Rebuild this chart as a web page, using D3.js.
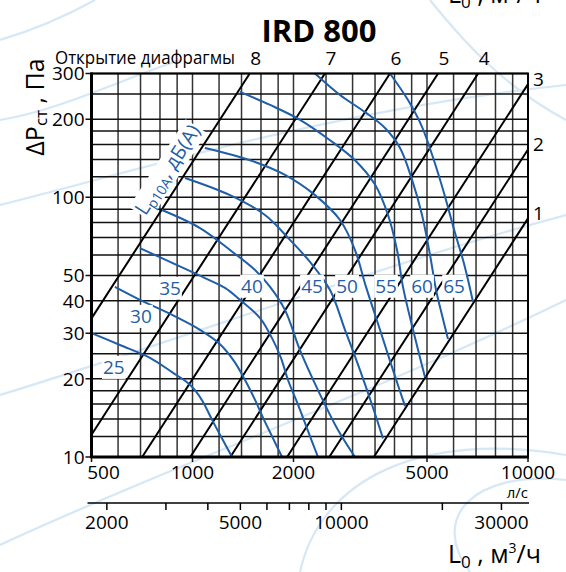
<!DOCTYPE html>
<html><head><meta charset="utf-8">
<script src="https://cdn.jsdelivr.net/npm/d3@7"></script>
<style>body{margin:0;background:#fff}svg{display:block}text{font-family:"Open Sans",sans-serif}</style>
</head><body>
<svg id="c" width="566" height="572"></svg>
<script>
// ---------- DATA ----------
const title = "IRD 800";
const xMajorTicks = [500, 1000, 2000, 5000, 10000];            // л/с
const xGridValues = [500,600,700,800,900,1000,1200,1400,1600,1800,2000,2500,3000,3500,4000,4500,5000,6000,7000,8000,9000,10000];
const yMajorTicks = [10, 20, 30, 40, 50, 100, 200, 300];       // Па
const yGridValues = [10,12,14,16,18,20,25,30,40,50,60,70,80,90,100,120,140,160,180,200,250,300];
const m3hTicks = [2000,3000,4000,5000,6000,7000,8000,9000,10000,20000,30000];
const m3hLabels = [2000, 5000, 10000, 30000];
// damper opening positions: pressure drop (Pa) at 10000 l/s, P = k*(L/10000)^2
const damperNames = ["1","2","3","4","5","6","7","8"];
const damperPAt10000 = [83, 153, 273, 595, 1031, 1995, 4874, 13677];
// noise level curves Lp10A, dB(A): [L l/s, P Pa]
const noiseLevels = [25, 30, 35, 40, 45, 50, 55, 60, 65];
const noise25 = [[500,30.0],[608,27.0],[747,24.1],[875,21.1],[963,19.4],[1017,18.1],[1075,16.3],[1144,13.9],[1224,11.8],[1312,10]];
const noise30 = [[587,45.2],[697,40.3],[857,35.6],[1053,30.9],[1208,27.2],[1330,23.4],[1434,19.8],[1536,16.6],[1634,13.9],[1738,11.8],[1849,10]];
const noise35 = [[697,63.8],[857,56.4],[1089,48.9],[1250,44.8],[1385,40.3],[1590,34.3],[1726,28.7],[1835,24.1],[1926,19.8],[2063,15.9],[2209,12.6],[2366,10]];
const noise40 = [[811,89.4],[1053,76.2],[1294,62.7],[1536,52.5],[1703,45.2],[1887,36.8],[2091,25.8],[2366,18.1],[2715,12.7],[3050,10]];
const noise45 = [[950,118.8],[1294,102],[1645,85.5],[1952,68.6],[2240,56.4],[2570,44.0],[2848,30.9],[3157,21.6],[3428,15.9],[3697,11.8]];
const noise50 = [[1089,155],[1484,139],[1887,122],[2318,102],[2752,81.8],[3050,62.7],[3290,45.2],[3621,30.9],[3959,21.6],[4300,15.7]];
const noise55 = [[1385,255],[1703,227],[2091,199],[2570,166],[3050,139],[3499,112],[3826,85.5],[4070,62.7],[4240,45.2],[4543,30.9],[4932,20.3]];
const noise60 = [[2318,300],[2752,248],[3267,213],[3748,185],[4155,155],[4511,117],[4832,85.5],[5105,60.0],[5320,44.0],[5542,35.2],[5775,28.5]];
const noise65 = [[3878,300],[4389,237],[4832,187],[5243,139],[5618,104],[6061,72.9],[6402,57.4],[6627,48.1],[6857,39.6]];
const noiseCurves = [noise25, noise30, noise35, noise40, noise45, noise50, noise55, noise60, noise65];

// ---------- LAYOUT ----------
const BLUE = "#1f5ea8";
const noiseLabelAt = [[583,22.2],[702,34.9],[857,44.8],[1504,45.6],[2271,45.6],[2888,45.6],[3774,45.6],[4832,45.6],[6020,45.6]];

const svg = d3.select("#c");
const x = d3.scaleLog().domain([500, 10000]).range([91.5, 528]);
const y = d3.scaleLog().domain([10, 300]).range([457, 73.5]);
const X0 = x(500), X1 = x(10000), Y0 = y(10), Y1 = y(300);

// background watermark swooshes
const wm = svg.append("g").attr("fill","none").attr("stroke","#d6e7f5").attr("stroke-width",2.2);
["M0,40 Q50,25 95,0","M0,205 C140,170 330,110 566,85","M0,395 C180,340 380,265 566,215",
 "M0,545 C160,470 360,400 566,300","M300,572 C320,480 420,430 566,455","M470,572 C430,520 470,470 566,480",
 "M430,0 C470,50 510,90 566,120","M0,120 C60,110 120,80 180,60"].forEach(d=>wm.append("path").attr("d",d));

// grid
const g = svg.append("g");
g.selectAll(".vg").data(xGridValues).join("line")
  .attr("x1",d=>x(d)).attr("x2",d=>x(d)).attr("y1",Y0).attr("y2",Y1)
  .attr("stroke","#333").attr("stroke-width",1.5);
g.selectAll(".hg").data(yGridValues).join("line")
  .attr("x1",d=>yMajorTicks.includes(d)?X0-6:X0).attr("x2",X1).attr("y1",d=>y(d)).attr("y2",d=>y(d))
  .attr("stroke","#111").attr("stroke-width",1.5);
g.selectAll(".bt").data(xMajorTicks).join("line")
  .attr("x1",d=>x(d)).attr("x2",d=>x(d)).attr("y1",Y0).attr("y2",Y0+5)
  .attr("stroke","#111").attr("stroke-width",1.5);

// damper system lines
const line = d3.line().x(d=>x(d[0])).y(d=>y(d[1]));
const sys = svg.append("g");
damperPAt10000.forEach((k,i)=>{
  const Lmin = Math.max(500, 10000*Math.sqrt(10/k));
  const Lmax = Math.min(10000, 10000*Math.sqrt(300/k));
  const pts = [Lmin, Lmax].map(L=>[L, k*(L/10000)**2]);
  sys.append("path").attr("d",line(pts)).attr("fill","none").attr("stroke","#000").attr("stroke-width",2);
  const lab = svg.append("text").attr("font-size",19).attr("fill","#000").text(damperNames[i]);
  if (Lmax < 10000) lab.attr("x", x(Lmax)+6).attr("y", Y1-9).attr("text-anchor","middle");
  else lab.attr("x", X1+5).attr("y", y(pts[1][1])).attr("dy","0.1em");
});

// noise curves
const curve = d3.line().x(d=>x(d[0])).y(d=>y(d[1])).curve(d3.curveCatmullRom.alpha(0.5));
const nc = svg.append("g");
noiseCurves.forEach(c=>nc.append("path").attr("d",curve(c)).attr("fill","none").attr("stroke",BLUE).attr("stroke-width",2));

// noise labels with white boxes
noiseLevels.forEach((lv,i)=>{
  const gg = svg.append("g");
  const t = gg.append("text").attr("x",x(noiseLabelAt[i][0])).attr("y",y(noiseLabelAt[i][1]))
    .attr("dy","0.36em").attr("text-anchor","middle").attr("font-size",19).attr("fill",BLUE).text(lv);
  const b = t.node().getBBox();
  gg.insert("rect","text").attr("x",b.x-1).attr("y",b.y+2).attr("width",b.width+2).attr("height",b.height-3).attr("fill","#fff");
});

// Lp10A label along line 8
{
  const k = damperPAt10000[7];
  const P = 88, L = 10000*Math.sqrt(P/k);
  const ang = Math.atan2(y(300)-y(10), x(10000*Math.sqrt(300/k))-x(10000*Math.sqrt(10/k)))*180/Math.PI;
  const gg = svg.append("g").attr("transform",`translate(${x(L)},${y(P)}) rotate(${ang}) translate(-12,-10)`);
  const t = gg.append("text").attr("font-size",20).attr("fill",BLUE);
  t.append("tspan").text("L");
  t.append("tspan").attr("font-size",14).attr("dy",4).text("p10A");
  t.append("tspan").attr("dy",-4).text(", дБ(A)");
  const b = t.node().getBBox();
  gg.insert("rect","text").attr("x",b.x-1).attr("y",b.y+2).attr("width",b.width+2).attr("height",b.height-4).attr("fill","#fff");
}

// frame
svg.append("rect").attr("x",X0).attr("y",Y1).attr("width",X1-X0).attr("height",Y0-Y1)
  .attr("fill","none").attr("stroke","#000").attr("stroke-width",2);
svg.append("line").attr("x1",X0).attr("x2",X0).attr("y1",Y1-1).attr("y2",Y0+1).attr("stroke","#000").attr("stroke-width",3);
svg.append("line").attr("x1",X0-1).attr("x2",X1+1).attr("y1",Y0).attr("y2",Y0).attr("stroke","#000").attr("stroke-width",3);

// tick labels
svg.selectAll(".yl").data(yMajorTicks).join("text").attr("x",X0-7).attr("y",d=>y(d)).attr("dy","0.36em")
  .attr("text-anchor","end").attr("font-size",19).text(d=>d);
svg.selectAll(".xl").data(xMajorTicks).join("text").attr("x",d=>d===500?X0+12:x(d)).attr("y",Y0+22)
  .attr("text-anchor","middle").attr("font-size",19).text(d=>d);
svg.append("text").attr("x",X1).attr("y",Y0+41).attr("text-anchor","end").attr("font-size",15).text("л/с");

// secondary axis m3/h
const sy = 503;
svg.append("line").attr("x1",X0-4).attr("x2",X1+1).attr("y1",sy).attr("y2",sy).attr("stroke","#000").attr("stroke-width",1.5);
svg.selectAll(".st").data(m3hTicks).join("line").attr("x1",d=>x(d/3.6)).attr("x2",d=>x(d/3.6))
  .attr("y1",sy).attr("y2",sy+7).attr("stroke","#000").attr("stroke-width",1.5);
svg.selectAll(".sl").data(m3hLabels).join("text").attr("x",d=>x(d/3.6)).attr("y",sy+26)
  .attr("text-anchor","middle").attr("font-size",19).text(d=>d);

// axis titles
function flowTitle(yy){
  const t = svg.append("text").attr("x",448).attr("y",yy).attr("font-size",25);
  t.append("tspan").text("L");
  t.append("tspan").attr("font-size",17).attr("dy",5).text("0");
  t.append("tspan").attr("dy",-5).text(" , м");
  t.append("tspan").attr("font-size",14).attr("dy",-10).text("3");
  t.append("tspan").attr("dy",10).text("/ч");
}
flowTitle(563);
flowTitle(3);
{
  const t = svg.append("text").attr("transform","translate(44,107) rotate(-90)").attr("text-anchor","middle").attr("font-size",25);
  t.append("tspan").text("ΔP");
  t.append("tspan").attr("font-size",17).attr("dy",3).text("ст");
  t.append("tspan").attr("dy",-3).text(" , Па");
}
svg.append("text").attr("x",319).attr("y",42).attr("text-anchor","middle").attr("font-size",31).attr("font-weight","bold").text(title);
svg.append("text").attr("x",55).attr("y",64).attr("font-size",18).attr("textLength",180).attr("lengthAdjust","spacingAndGlyphs").text("Открытие диафрагмы");
</script>
</body></html>
